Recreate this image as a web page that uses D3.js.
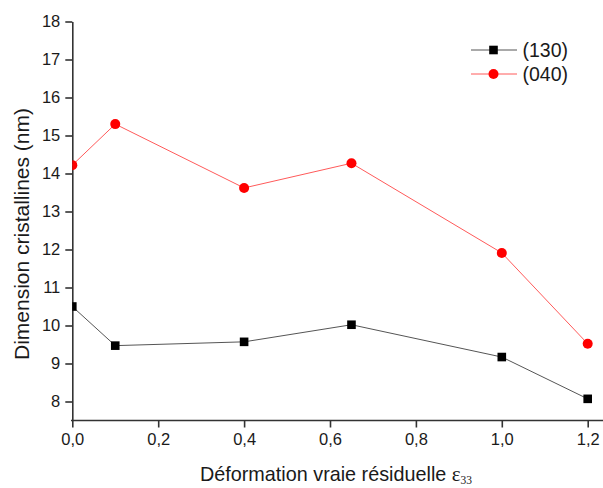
<!DOCTYPE html>
<html><head><meta charset="utf-8">
<script src="https://cdn.jsdelivr.net/npm/d3@7"></script>
<style>body{margin:0;background:#fff;} text{font-family:"Liberation Sans",Arial,sans-serif;fill:#1a1a1a;}</style>
</head><body>
<svg id="c" width="603" height="488"></svg>
<script>
const xValues = [0.0, 0.1, 0.4, 0.65, 1.0, 1.2];
const series130 = [10.5, 9.47, 9.57, 10.02, 9.17, 8.07];
const series040 = [14.22, 15.3, 13.62, 14.27, 11.91, 9.52];
const seriesNames = ["(130)", "(040)"];
const xTicks = [0, 0.2, 0.4, 0.6, 0.8, 1.0, 1.2];
const yTicks = [8, 9, 10, 11, 12, 13, 14, 15, 16, 17, 18];

const svg = d3.select("#c");
const x = d3.scaleLinear().domain([0, 1.2]).range([72.3, 587.7]);
const y = d3.scaleLinear().domain([7.5, 18]).range([420.5, 21.5]);
const fmt = d => d3.format(".1f")(d).replace(".", ",");
const axisCol = "#333";

svg.append("defs").append("clipPath").attr("id", "plot")
  .append("rect").attr("x", 72.3).attr("y", 0).attr("width", 603 - 72.3).attr("height", 421);

// x axis
const gx = svg.append("g").attr("transform", "translate(0,420.5)");
gx.call(d3.axisBottom(x).tickValues(d3.range(0, 1.21, 0.1)).tickSize(4).tickSizeOuter(0).tickFormat(""));
gx.call(d3.axisBottom(x).tickValues(xTicks).tickSize(7).tickSizeOuter(0).tickFormat(fmt).tickPadding(6));
gx.select("path.domain").attr("d", "M71,0H603");
gx.selectAll("path").attr("stroke", axisCol).attr("stroke-width", 1.6);
gx.selectAll("line").attr("stroke", axisCol).attr("stroke-width", 1.6);
gx.selectAll("text").style("font-size", "16.5px").attr("fill", "#1a1a1a");

// y axis
const gy = svg.append("g").attr("transform", "translate(72.3,0)");
gy.call(d3.axisLeft(y).tickValues(d3.range(7.5, 18.01, 0.5)).tickSize(4).tickSizeOuter(0).tickFormat(""));
gy.call(d3.axisLeft(y).tickValues(yTicks).tickSize(7).tickSizeOuter(0).tickFormat(d3.format("d")).tickPadding(5));
gy.selectAll("path").attr("stroke", axisCol).attr("stroke-width", 1.6);
gy.selectAll("line").attr("stroke", axisCol).attr("stroke-width", 1.6);
gy.selectAll("text").style("font-size", "16.5px").attr("fill", "#1a1a1a");

const line = d3.line().x((d, i) => x(xValues[i])).y(d => y(d));
const plot = svg.append("g").attr("clip-path", "url(#plot)");

// (040) series
plot.append("path").datum(series040).attr("d", line).attr("fill", "none").attr("stroke", "#ff5a5a").attr("stroke-width", 1);
plot.selectAll(".ci").data(series040).enter().append("circle")
  .attr("cx", (d, i) => x(xValues[i])).attr("cy", d => y(d)).attr("r", 5).attr("fill", "#ff0000");

// (130) series
plot.append("path").datum(series130).attr("d", line).attr("fill", "none").attr("stroke", "#555").attr("stroke-width", 1);
plot.selectAll(".sq").data(series130).enter().append("rect")
  .attr("x", (d, i) => x(xValues[i]) - 4.3).attr("y", d => y(d) - 4.3)
  .attr("width", 8.6).attr("height", 8.6).attr("fill", "#000");

// legend
const lg = svg.append("g");
[[seriesNames[0], 50, "#555", "sq"], [seriesNames[1], 74, "#ff5a5a", "ci"]].forEach(([name, ly, col, m]) => {
  lg.append("line").attr("x1", 471).attr("x2", 517).attr("y1", ly).attr("y2", ly).attr("stroke", col).attr("stroke-width", 1);
  if (m === "sq") lg.append("rect").attr("x", 493.5 - 4.3).attr("y", ly - 4.3).attr("width", 8.6).attr("height", 8.6).attr("fill", "#000");
  else lg.append("circle").attr("cx", 493.5).attr("cy", ly).attr("r", 5).attr("fill", "#ff0000");
  lg.append("text").attr("x", 522.5).attr("y", ly + 6.5).style("font-size", "19.5px").text(name);
});

// axis titles
svg.append("text").attr("transform", "translate(28.5,234) rotate(-90)").attr("text-anchor", "middle")
  .style("font-size", "21px").text("Dimension cristallines (nm)");
const xt = svg.append("text").attr("x", 200).attr("y", 481).attr("text-anchor", "start").style("font-size", "19.8px");
xt.append("tspan").text("Déformation vraie résiduelle ");
xt.append("tspan").style("font-family", "Liberation Serif, serif").style("font-size", "21px").text("ε");
xt.append("tspan").attr("dy", 2.5).style("font-size", "11.5px").style("font-family", "Liberation Serif, serif").text("33");
</script>
</body></html>
